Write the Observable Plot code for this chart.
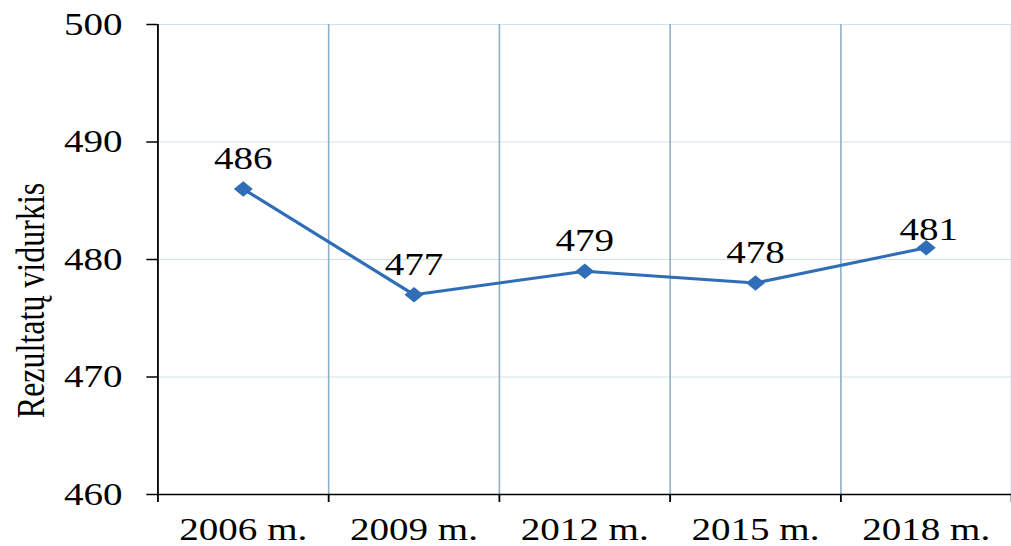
<!DOCTYPE html>
<html>
<head>
<meta charset="utf-8">
<script src="https://cdn.jsdelivr.net/npm/d3@7"></script>
<script src="https://cdn.jsdelivr.net/npm/@observablehq/plot@0.6"></script>
<style>
  html, body { margin: 0; padding: 0; background: #ffffff; }
  #chart { width: 1011px; height: 546px; overflow: hidden; }
</style>
</head>
<body>
<div id="chart"></div>
<script>
const categories = ["2006 m.", "2009 m.", "2012 m.", "2015 m.", "2018 m."];
const values = [486, 477, 479, 478, 481];
const yTicks = [460, 470, 480, 490, 500];
const yTitle = "Rezultatų vidurkis";

const data = categories.map((c, i) => ({i, c, v: values[i]}));
const boundaries = d3.range(-0.5, categories.length, 1);
const centers = d3.range(categories.length);

const S = 1.22;                 // horizontal stretch of the reference
const W = Math.round(1011 / S);
const H = 546;
const font = "'Liberation Serif', 'Times New Roman', serif";

const plot = Plot.plot({
  width: W,
  height: H,
  marginLeft: 129,
  marginRight: 0,
  marginTop: 24,
  marginBottom: 52,
  style: {fontFamily: font, fontSize: "32px", color: "#000", background: "#fff"},
  x: {type: "linear", domain: [-0.5, categories.length - 0.5]},
  y: {domain: [460, 500]},
  marks: [
    Plot.ruleY(yTicks.slice(1), {stroke: "#D5E1EA", strokeWidth: 1.2}),
    Plot.ruleX(boundaries.slice(1), {stroke: "#8FB0C6", strokeWidth: 1.3}),
    Plot.ruleX([boundaries[0]], {stroke: "#000", strokeWidth: 1.5}),
    Plot.ruleY([460], {stroke: "#000", strokeWidth: 1.5}),
    Plot.axisY({ticks: yTicks, tickSize: 9, tickPadding: 20, fontSize: 32, fontFamily: font, stroke: "#000", strokeWidth: 1.5, label: null}),
    Plot.axisX({ticks: boundaries, tickSize: 8, tickFormat: () => "", stroke: "#000", strokeWidth: 1.5, label: null}),
    Plot.axisX({ticks: centers, tickSize: 0, tickPadding: 23, fontSize: 32, fontFamily: font, tickFormat: i => categories[i], label: null}),
    Plot.line(data, {x: "i", y: "v", stroke: "#2F6EB6", strokeWidth: 3}),
    Plot.dot(data, {x: "i", y: "v", symbol: "diamond2", r: 7, fill: "#2F6EB6", stroke: "none"}),
    Plot.text(data.slice(0, -1), {x: "i", y: "v", text: d => String(d.v), dy: -30, fontSize: 32, fontFamily: font, fill: "#000"}),
    Plot.text(data.slice(-1), {x: "i", y: "v", text: d => String(d.v), dy: -18, dx: 2, fontSize: 32, fontFamily: font, fill: "#000"}),
    Plot.text([yTitle], {frameAnchor: "left", textAnchor: "middle", text: d => d, rotate: -90, dx: -104, dy: 41, fontSize: 32, fontFamily: font, fill: "#000"})
  ]
});

plot.setAttribute("width", 1011);
plot.setAttribute("height", H);
plot.setAttribute("viewBox", `0 0 ${W} ${H}`);
plot.setAttribute("preserveAspectRatio", "none");
plot.style.maxWidth = "none";
document.getElementById("chart").appendChild(plot);
</script>
</body>
</html>
